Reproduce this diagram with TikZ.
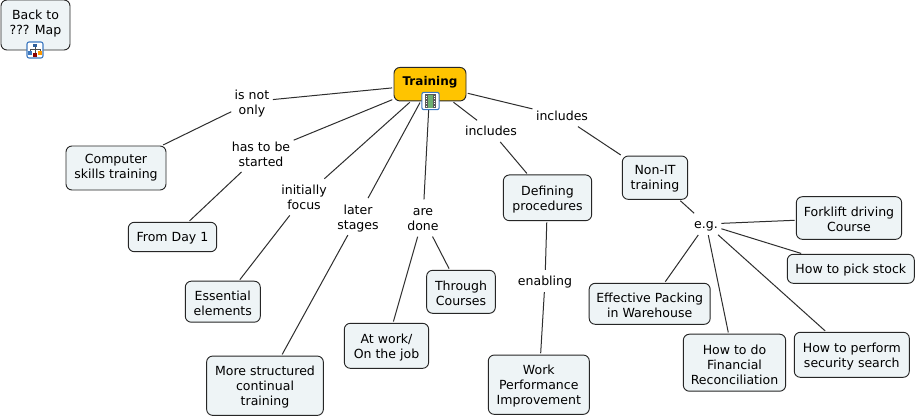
\documentclass[tikz,border=0pt]{standalone}
\usepackage{fontspec}
\setmainfont{DejaVu Sans}
\definecolor{boxfill}{HTML}{EEF4F6}
\definecolor{rootfill}{HTML}{FFC400}
\definecolor{linkgrey}{HTML}{2E2E2E}
\definecolor{iconblue}{HTML}{3C78C0}
\definecolor{filmgreen}{HTML}{6DB070}
\tikzset{
  boxsize/.style 2 args={minimum width=#1*0.75pt,minimum height=#2*0.75pt},
  tophold/.style={execute at begin node={\rule{0pt}{#1}}},
  bothold/.style={execute at end node={\rule[-#1]{0pt}{#1}}},
  concept/.style={draw=black!85,fill=boxfill,rounded corners=4.5pt,align=center,inner sep=0pt,line width=0.7pt,bothold=2pt},
  phrase/.style={align=center,inner sep=1.5pt,bothold=2pt,tophold=20.65pt},
  shortphrase/.style={align=center,inner sep=1.5pt,bothold=2pt,tophold=9.4pt},
  link/.style={draw=linkgrey,line width=0.75pt,shorten >=1pt,shorten <=1pt},
  iconbox/.style={draw=iconblue,fill=white,rounded corners=1.5pt,minimum size=12pt,inner sep=0pt,line width=0.8pt}
}
\begin{document}
\begin{tikzpicture}[x=0.75pt,y=-0.75pt,every node/.style={font=\fontsize{9.4}{11.25}\selectfont}]
\useasboundingbox[fill=white] (0,0) rectangle (917,418);
% concepts
\node[concept,boxsize={69}{50},bothold=3.55pt] (back) at (35.5,25) {Back to\\??? Map};
\node[concept,boxsize={72}{33.5},fill=rootfill,bothold=4.3pt,font=\fontsize{9}{11.25}\selectfont\bfseries] (training) at (430,84.2) {Training};
\node[concept,boxsize={100}{44}] (computer) at (116,168) {Computer\\skills training};
\node[concept,boxsize={88.4}{29.4},tophold=8pt] (day) at (172.5,237) {From Day 1};
\node[concept,boxsize={75}{41},tophold=21.95pt] (essential) at (222.8,301.7) {Essential\\elements};
\node[concept,boxsize={116.7}{59.3},tophold=30.95pt] (structured) at (265,385.7) {More structured\\continual\\training};
\node[concept,boxsize={84.3}{45},tophold=20.75pt] (work) at (386.5,345.8) {At work/\\On the job};
\node[concept,boxsize={68.7}{43},tophold=21.8pt] (courses) at (461,291.8) {Through\\Courses};
\node[concept,boxsize={88.3}{45.7},tophold=20.3pt] (defining) at (547.5,197.8) {Defining\\procedures};
\node[concept,boxsize={101}{59.3},tophold=31.4pt] (improvement) at (538.8,384.7) {Work\\Performance\\Improvement};
\node[concept,boxsize={65.4}{43.3},tophold=18.95pt] (nonit) at (655,177.7) {Non-IT\\training};
\node[concept,boxsize={105.3}{42.6},tophold=22.55pt] (forklift) at (849,218) {Forklift driving\\Course};
\node[concept,boxsize={127}{29},tophold=8.75pt] (stock) at (850.8,268.8) {How to pick stock};
\node[concept,boxsize={121}{41},tophold=22.25pt] (packing) at (649.7,303.8) {Effective Packing\\in Warehouse};
\node[concept,boxsize={102.3}{57},tophold=33.95pt] (financial) at (734.5,362.7) {How to do\\Financial\\Reconciliation};
\node[concept,boxsize={115}{45},tophold=20.75pt] (security) at (851.8,354.8) {How to perform\\security search};
% linking phrases
\node[phrase] (isnot) at (252,101.6) {is not\\only};
\node[phrase] (started) at (261,153.6) {has to be\\started};
\node[phrase] (focus) at (304,197) {initially\\focus};
\node[phrase] (stages) at (358,216.6) {later\\stages};
\node[phrase] (done) at (423,218) {are\\done};
\node[shortphrase] (incl1) at (491,131) {includes};
\node[shortphrase] (incl2) at (562,116) {includes};
\node[shortphrase] (enabling) at (545,281) {enabling};
\node[shortphrase] (eg) at (706,224) {e.g.};
% links
\foreach \target in {isnot,started,focus,stages,done,incl1,incl2} \draw[link] (training) -- (\target);
\draw[link] (isnot) -- (computer);
\draw[link] (started) -- (day);
\draw[link] (focus) -- (essential);
\draw[link] (stages) -- (structured);
\draw[link] (done) -- (work);
\draw[link] (done) -- (courses);
\draw[link] (incl1) -- (defining);
\draw[link] (incl2) -- (nonit);
\draw[link] (defining) -- (enabling);
\draw[link] (enabling) -- (improvement);
\draw[link] (nonit) -- (eg);
\foreach \target in {forklift,stock,packing,financial,security} \draw[link] (eg) -- (\target);
% icons
\node[iconbox] (mapicon) at (35,50) {};
\draw[black!70,line width=0.35pt] (35,47) -- (35,53) (30,52) -- (30,49.5) -- (40,49.5) -- (40,52);
\fill[iconblue!80!black] (33,43.5) rectangle (37,47);
\fill[iconblue] (28,51) rectangle (32,55);
\fill[orange!80!yellow] (38,51) rectangle (42,55);
\fill[red!55!black] (33,53) rectangle (37,56.5);
\node[iconbox,minimum size=13pt] (filmicon) at (430.5,101) {};
\fill[black!65] (425,94) rectangle (436,108);
\fill[filmgreen] (427.7,94.5) rectangle (433.3,107.5);
\foreach \row in {95.5,98,100.5,103,105.5} {
  \fill[white] (425.7,\row) rectangle (426.9,\row+1.2);
  \fill[white] (434.1,\row) rectangle (435.3,\row+1.2);
}
\end{tikzpicture}
\end{document}
